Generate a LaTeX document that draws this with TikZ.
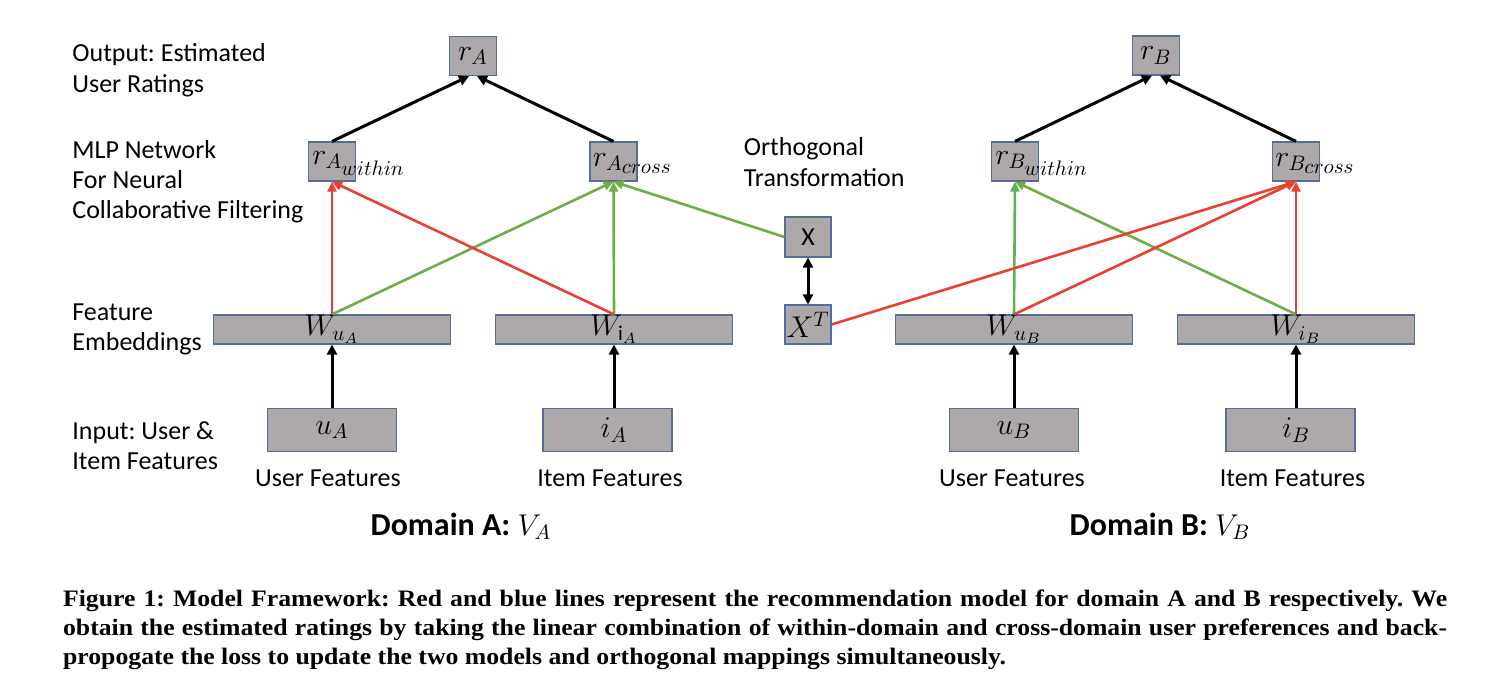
\RequirePackage{fix-cm}
\documentclass[tikz,border=0pt]{standalone}
\usepackage{fontspec}
\setmainfont{Carlito}
\newfontfamily\capfont[FakeStretch=1.09]{Liberation Serif}
\usetikzlibrary{arrows.meta,calc}
\definecolor{boxfill}{RGB}{173,169,170}
\definecolor{boxline}{RGB}{84,110,150}
\definecolor{lred}{RGB}{233,64,50}
\definecolor{lgreen}{RGB}{112,173,71}
\definecolor{bgreen}{RGB}{92,178,88}
\frenchspacing
\begin{document}
\begin{tikzpicture}[x=0.5pt,y=-0.5pt,
  basebox/.style={draw=boxline,line width=0.6pt,fill=boxfill,inner sep=0pt},
  sbox/.style={basebox,minimum width=23.5pt,minimum height=19.5pt},
  wbox/.style={basebox,minimum width=118.5pt,minimum height=14.5pt},
  ibox/.style={basebox,minimum width=64.5pt,minimum height=21.5pt},
  mlbl/.style={font=\fontsize{15}{17}\selectfont,inner sep=0pt},
  txt/.style={font=\fontsize{13}{15}\selectfont,anchor=base west,inner sep=0pt},
  ctxt/.style={font=\fontsize{13}{15}\selectfont,anchor=base,inner sep=0pt},
  domlbl/.style={font=\fontsize{16}{18}\selectfont\bfseries,anchor=base,inner sep=0pt},
  captxt/.style={font=\capfont\bfseries\fontsize{11.8}{14}\selectfont,anchor=base west,inner sep=0pt},
  blk/.style={line width=1.5pt,-{Triangle[length=5pt,width=5pt]}},
  dblk/.style={line width=1.5pt,{Triangle[length=5pt,width=5pt]}-{Triangle[length=5pt,width=5pt]}},
  redarr/.style={draw=lred,line width=1.3pt,-{Triangle[length=5pt,width=4.5pt]}},
  grnarr/.style={draw=lgreen,line width=1.3pt,-{Triangle[length=5pt,width=4.5pt]}},
  bgrnarr/.style={draw=bgreen,line width=1.3pt,-{Triangle[length=5pt,width=4.5pt]}}
]
\useasboundingbox (0,0) rectangle (1510,690);
% boxes
\node[sbox] (rA) at (473,56) {};
\node[sbox] (rAw) at (332,161.5) {};
\node[sbox] (rAc) at (613.5,161.5) {};
\node[sbox] (rB) at (1156,55.5) {};
\node[sbox] (rBw) at (1015,161.5) {};
\node[sbox] (rBc) at (1296,161.5) {};
\node[sbox,minimum width=23pt,minimum height=20pt] (X) at (808,237) {};
\node[sbox,minimum width=23pt] (XT) at (808,324.5) {};
\node[wbox] (WuA) at (332,329.5) {};
\node[wbox] (WiA) at (614,329.5) {};
\node[wbox] (WuB) at (1014,329.5) {};
\node[wbox] (WiB) at (1296,329.5) {};
\node[ibox] (uA) at (332,430) {};
\node[ibox] (iA) at (607.5,430) {};
\node[ibox] (uB) at (1014,430) {};
\node[ibox] (iB) at (1290.5,430) {};
% box labels
\node[mlbl] (rAT) at (rA) {$r_A$};
\node[mlbl,anchor=west] (rAwT) at ([xshift=2pt,yshift=-1pt]rAw.west) {$r_{A_{\scriptstyle within}}$};
\node[mlbl,anchor=west] (rAcT) at ([xshift=1.5pt,yshift=-1pt]rAc.west) {$r_{A_{\scriptstyle cross}}$};
\node[mlbl] (rBT) at (rB) {$r_B$};
\node[mlbl,anchor=west] (rBwT) at ([xshift=2pt,yshift=-1pt]rBw.west) {$r_{B_{\scriptstyle within}}$};
\node[mlbl,anchor=west] (rBcT) at ([xshift=1.5pt,yshift=-1pt]rBc.west) {$r_{B_{\scriptstyle cross}}$};
\node[mlbl,font=\fontsize{13}{15}\selectfont] (XL) at (X) {X};
\node[mlbl] (XTL) at (XT) {$X^T$};
\node[mlbl] (WuAT) at (WuA) {$W_{u_A}$};
\node[mlbl] (WiAT) at (WiA) {$W_{\mathrm{i}_A}$};
\node[mlbl] (WuBT) at (WuB) {$W_{u_B}$};
\node[mlbl] (WiBT) at (WiB) {$W_{i_B}$};
\node[mlbl] (uAT) at (uA) {$u_A$};
\node[mlbl] (iAT) at (iA -| WiA) {$i_A$};
\node[mlbl] (uBT) at (uB) {$u_B$};
\node[mlbl] (iBT) at (iB -| WiB) {$i_B$};
% side texts
\node[txt] (t1) at (72,61.7) {Output: Estimated};
\node[txt] (t2) at (72,92.7) {User Ratings};
\node[txt] (t3) at (72,158) {MLP Network};
\node[txt] (t4) at (72,188.5) {For Neural};
\node[txt] (t5) at (72,219) {Collaborative Filtering};
\node[txt] (t6) at (72,320) {Feature};
\node[txt] (t7) at (72,350) {Embeddings};
\node[txt] (t8) at (72,439) {Input: User \&};
\node[txt] (t9) at (72,469) {Item Features};
\node[txt] (t10) at (743.5,155.7) {Orthogonal};
\node[txt] (t11) at (743.5,186.7) {Transformation};
\node[ctxt] (f1) at (328,486) {User Features};
\node[ctxt] (f2) at (610,486) {Item Features};
\node[ctxt] (f3) at (1012,486) {User Features};
\node[ctxt] (f4) at (1292.5,486) {Item Features};
\node[domlbl] (dA) at (461,535) {Domain A:\ {\mdseries\fontsize{15}{17}\selectfont$V_A$}};
\node[domlbl] (dB) at (1160,535) {Domain B:\ {\mdseries\fontsize{15}{17}\selectfont$V_B$}};
% caption
\node[captxt] (c1) at (62.7,606) {\makebox[692pt][s]{Figure 1: Model Framework: Red and blue lines represent the recommendation model for domain A and B respectively. We}};
\node[captxt] (c2) at (62.7,635) {\makebox[692pt][s]{obtain the estimated ratings by taking the linear combination of within-domain and cross-domain user preferences and back-}};
\node[captxt] (c3) at (62.7,664) {propogate the loss to update the two models and orthogonal mappings simultaneously.};
% black arrows
\draw[blk] (rAw.north) -- ([xshift=-2pt]rA.south);
\draw[blk] (rAc.north) -- ([xshift=2pt]rA.south);
\draw[blk] (rBw.north) -- ([xshift=-2pt]rB.south);
\draw[blk] (rBc.north) -- ([xshift=2pt]rB.south);
\draw[blk] (uA.north) -- (WuA.south);
\draw[blk] (iA.north -| WiA) -- (WiA.south);
\draw[blk] (uB.north) -- (WuB.south);
\draw[blk] (iB.north -| WiB) -- (WiB.south);
\draw[dblk] (X.south) -- (XT.north);
% coloured arrows, domain A
\draw[grnarr] (WuA.north) -- (rAc.south);
\draw[grnarr] (WiA.north) -- (rAc.south);
\draw[grnarr] (X.west) -- (rAc.south);
\draw[redarr] (WuA.north) -- (rAw.south);
\draw[redarr] (WiA.north) -- (rAw.south);
% domain B
\draw[bgrnarr] (WuB.north) -- (rBw.south);
\draw[grnarr] (WiB.north) -- (rBw.south);
\draw[redarr] (WuB.north) -- (rBc.south);
\draw[redarr] (WiB.north) -- (rBc.south);
\draw[redarr] (XT.east) -- (rBc.south);
\end{tikzpicture}
\end{document}
